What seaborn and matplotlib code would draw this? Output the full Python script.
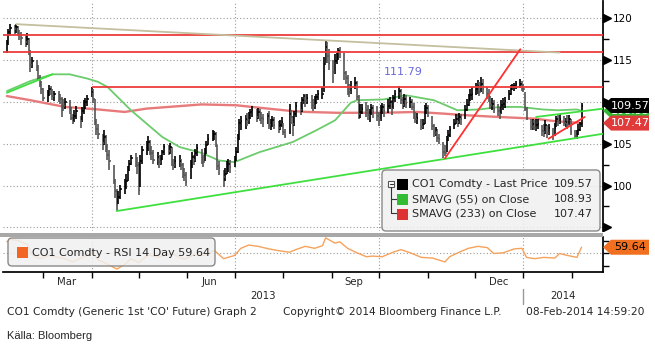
import numpy as np
import pandas as pd
import seaborn as sns
import matplotlib.pyplot as plt
import matplotlib.dates as mdates
from matplotlib.patches import Polygon, FancyBboxPatch, Rectangle
from matplotlib.lines import Line2D
from matplotlib.transforms import IdentityTransform, blended_transform_factory

sns.set_theme(style="white")
plt.rcParams['font.family'] = ['DejaVu Sans']

# --- daily bars, 6 Feb 2013 - 7 Feb 2014 (one row per week) ---
closes = [
    117.0, 118.4, 118.9,
    118.7, 119.0, 118.2, 118.0, 117.6,
    117.2, 117.5, 116.0, 114.4, 114.9,
    114.3, 112.9, 112.4, 111.6, 110.5,
    111.0, 111.6, 111.5, 110.7, 110.9,
    110.6, 110.3, 109.7, 109.5, 110.0,
    109.0, 108.1, 107.6, 108.3, 108.9,
    107.7, 108.9, 109.6, 110.0, 110.3,
    111.2, 110.4, 107.6, 106.8, 106.2,
    105.1, 105.8, 104.6, 103.7, 102.9,
    100.6, 99.3, 97.7, 98.6, 99.6,
    100.0, 100.6, 101.8, 102.6, 103.3,
    102.8, 102.4, 99.5, 102.9, 104.2,
    104.5, 105.2, 104.4, 103.9, 103.0,
    103.4, 102.8, 103.3, 104.0, 104.6,
    104.1, 104.6, 102.7, 102.5, 102.9,
    102.9, 102.4, 102.0, 101.3, 100.4,
    102.5, 103.4, 103.0, 103.9, 104.5,
    103.3, 102.8, 103.9, 104.8, 105.6,
    106.0, 106.2, 105.0, 102.3, 102.1,
    101.0, 101.4, 102.3, 102.6, 102.2,
    103.0, 104.0, 105.6, 107.5, 107.7,
    107.9, 107.8, 108.4, 108.8, 109.0,
    108.2, 108.8, 108.4, 108.1, 107.9,
    108.3, 107.2, 107.4, 107.8, 107.2,
    106.9, 107.2, 107.6, 106.4, 105.9,
    108.6, 108.2, 107.4, 108.5, 109.5,
    109.0, 110.2, 110.7, 110.1, 110.5,
    110.1, 109.5, 110.2, 110.6, 111.0,
    111.0, 114.5, 116.6, 115.5, 114.7,
    113.6, 114.9, 115.4, 116.1, 116.0,
    113.4, 112.9, 112.0, 111.2, 111.8,
    112.3, 110.6, 108.5, 108.8, 109.2,
    109.0, 108.4, 108.6, 109.3, 108.8,
    108.3, 107.8, 108.9, 109.4, 108.9,
    109.5, 110.0, 109.1, 110.5, 110.9,
    111.3, 110.2, 109.6, 110.4, 109.9,
    110.0, 109.4, 108.2, 107.9, 108.1,
    107.0, 107.4, 108.9, 109.3, 108.7,
    107.1, 106.3, 106.6, 105.7, 105.6,
    104.0, 103.9, 105.4, 106.0, 106.6,
    107.4, 107.9, 107.6, 108.2, 108.0,
    109.0, 109.6, 110.4, 110.8, 110.9,
    111.6, 111.9, 111.2, 112.2, 111.6,
    111.0, 110.7, 109.6, 109.8, 109.2,
    108.9, 108.5, 109.6, 109.8, 110.1,
    110.9, 111.6, 111.9, 111.9, 112.2,
    112.2, 111.9, 111.6, 109.2, 108.1,
    107.0, 107.4, 106.9, 107.2, 107.4,
    106.5, 106.4, 107.2, 106.3, 106.9,
    106.1, 106.9, 107.9, 107.6, 108.0,
    107.5, 107.6, 107.2, 107.9, 106.4,
    105.9, 106.2, 106.6, 107.3, 109.57,
]
highs = [
    117.4, 118.7, 119.3,
    119.2, 119.3, 119.1, 118.6, 118.4,
    118.0, 118.2, 117.6, 116.2, 115.4,
    115.0, 114.4, 113.2, 112.5, 111.7,
    111.4, 112.0, 111.9, 111.6, 111.3,
    111.3, 111.0, 110.6, 110.4, 110.5,
    110.2, 109.4, 108.5, 109.0, 109.5,
    108.3, 109.4, 110.2, 110.5, 110.8,
    111.8, 111.5, 110.3, 108.0, 107.3,
    106.2, 106.6, 106.1, 105.0, 104.2,
    102.4, 100.8, 99.6, 99.4, 100.1,
    100.8, 101.4, 102.3, 103.1, 103.6,
    103.9, 103.4, 102.8, 103.6, 104.7,
    105.3, 105.9, 105.4, 104.7, 104.3,
    104.0, 103.6, 103.7, 104.3, 105.0,
    104.9, 105.1, 104.6, 103.2, 103.5,
    103.6, 103.2, 102.7, 102.1, 101.6,
    103.0, 104.0, 103.7, 104.4, 105.0,
    104.4, 103.7, 104.5, 105.3, 106.2,
    106.6, 106.5, 106.4, 104.8, 102.9,
    101.9, 102.1, 102.9, 103.2, 103.0,
    103.5, 104.6, 106.2, 108.0, 108.3,
    108.4, 108.7, 108.8, 109.2, 109.5,
    109.2, 109.3, 109.2, 108.8, 108.6,
    108.7, 108.9, 107.9, 108.3, 108.2,
    107.7, 107.8, 108.2, 107.5, 106.8,
    109.8, 109.0, 108.3, 108.9, 110.0,
    110.0, 110.6, 111.0, 110.9, 110.9,
    110.8, 110.4, 110.7, 111.0, 111.4,
    111.8, 115.4, 117.4, 117.2, 116.3,
    115.0, 115.7, 115.9, 116.5, 116.6,
    115.8, 113.7, 113.2, 112.2, 112.5,
    113.0, 112.5, 110.8, 109.8, 109.8,
    110.0, 109.6, 109.2, 109.8, 109.6,
    109.5, 108.8, 109.6, 109.9, 109.8,
    110.3, 110.6, 110.2, 110.8, 111.4,
    111.9, 111.6, 110.6, 111.0, 110.8,
    110.6, 110.4, 109.9, 108.8, 108.7,
    107.9, 108.0, 109.6, 109.9, 109.6,
    108.3, 107.4, 107.0, 106.8, 106.2,
    105.2, 104.9, 105.9, 106.7, 107.1,
    108.0, 108.6, 108.5, 108.7, 108.6,
    109.6, 110.4, 111.0, 111.5, 111.8,
    112.3, 112.6, 112.4, 113.0, 112.7,
    111.8, 111.6, 110.7, 110.5, 110.2,
    109.8, 109.4, 110.2, 110.5, 110.6,
    111.4, 112.0, 112.2, 112.3, 112.5,
    112.8, 112.5, 112.1, 111.2, 109.4,
    108.0, 107.9, 107.8, 107.9, 108.0,
    107.2, 107.3, 107.8, 107.2, 107.3,
    106.9, 107.5, 108.3, 108.5, 108.6,
    108.3, 108.1, 108.4, 108.4, 107.9,
    106.7, 106.7, 107.3, 107.6, 109.9,
]
lows = [
    115.9, 116.8, 118.0,
    118.1, 118.3, 117.9, 117.4, 116.8,
    116.6, 116.8, 115.6, 113.6, 114.0,
    113.7, 112.6, 111.8, 110.9, 110.1,
    110.0, 110.7, 110.8, 110.2, 110.1,
    110.0, 109.7, 108.2, 108.9, 109.2,
    108.6, 107.8, 107.4, 107.6, 108.0,
    106.9, 107.6, 108.6, 109.1, 109.5,
    110.6, 109.9, 107.2, 106.0, 105.6,
    104.2, 104.8, 104.0, 103.0, 101.8,
    100.2, 98.5, 97.0, 97.8, 98.4,
    99.0, 99.6, 100.5, 101.7, 102.4,
    102.2, 101.4, 98.9, 99.8, 102.6,
    103.6, 104.1, 103.6, 103.1, 102.6,
    102.5, 102.1, 102.4, 103.0, 103.7,
    103.6, 103.8, 102.3, 101.8, 102.1,
    102.2, 101.9, 100.9, 100.5, 100.0,
    100.8, 102.1, 102.5, 102.8, 103.5,
    102.6, 102.2, 102.9, 103.8, 104.9,
    105.3, 105.5, 104.6, 101.8, 101.2,
    99.8, 100.5, 101.4, 101.6, 101.5,
    102.2, 102.9, 103.9, 105.5, 106.6,
    106.8, 107.1, 107.3, 107.9, 108.2,
    107.6, 107.9, 107.7, 107.3, 107.0,
    107.4, 106.8, 106.6, 107.0, 106.8,
    106.3, 106.6, 107.0, 106.0, 105.7,
    106.2, 107.3, 105.9, 107.1, 108.2,
    108.4, 108.8, 109.8, 109.4, 109.7,
    109.2, 108.9, 109.2, 109.8, 110.2,
    110.4, 111.2, 114.6, 114.6, 113.8,
    112.3, 113.3, 114.5, 115.0, 115.2,
    112.6, 112.2, 110.8, 110.6, 111.0,
    111.6, 110.2, 108.0, 108.1, 108.5,
    108.2, 107.8, 107.6, 108.4, 108.1,
    107.7, 107.1, 107.7, 108.5, 108.2,
    108.7, 109.2, 108.4, 109.1, 110.0,
    110.4, 109.8, 109.1, 109.4, 109.3,
    109.3, 109.0, 107.9, 107.5, 107.4,
    106.6, 106.8, 107.3, 108.6, 108.2,
    106.6, 105.8, 105.9, 105.2, 105.0,
    103.3, 103.5, 104.0, 105.3, 105.8,
    106.8, 107.3, 107.0, 107.4, 107.2,
    107.9, 108.9, 109.5, 110.1, 110.2,
    110.8, 111.0, 110.7, 111.2, 110.9,
    110.3, 110.0, 109.1, 109.0, 108.7,
    108.3, 108.0, 108.6, 109.0, 109.3,
    110.2, 110.8, 111.4, 111.3, 111.5,
    111.7, 111.3, 111.2, 108.9, 107.8,
    106.6, 106.7, 106.6, 106.5, 106.8,
    105.9, 105.8, 106.2, 105.7, 106.1,
    105.5, 105.9, 107.0, 107.1, 107.4,
    107.1, 107.0, 106.8, 107.2, 106.0,
    105.6, 105.6, 106.0, 106.5, 107.0,
]

sma55_dates = ['2013-02-06', '2013-02-21', '2013-03-07', '2013-03-18', '2013-03-29',
               '2013-04-05', '2013-04-11', '2013-04-26', '2013-05-16', '2013-05-27',
               '2013-06-10', '2013-06-21', '2013-07-01', '2013-07-17', '2013-08-07',
               '2013-08-22', '2013-09-03', '2013-09-13', '2013-09-17', '2013-10-04',
               '2013-10-18', '2013-11-05', '2013-11-20', '2013-12-04', '2013-12-17',
               '2013-12-30', '2014-01-13', '2014-01-23', '2014-02-04', '2014-02-07']
sma55_values = [111.3, 112.5, 113.3, 113.3, 112.8, 112.4, 111.8, 109.0, 105.8, 104.6,
                103.9, 103.0, 102.8, 104.0, 105.2, 106.6, 107.8, 109.9, 110.2, 110.3,
                110.8, 110.2, 109.0, 109.1, 109.4, 109.4, 109.1, 109.0, 109.1, 108.93]

sma233_dates = ['2013-02-06', '2013-02-21', '2013-03-15', '2013-04-05', '2013-04-22',
                '2013-05-06', '2013-05-27', '2013-06-10', '2013-07-02', '2013-07-17',
                '2013-08-07', '2013-08-16', '2013-09-04', '2013-10-04', '2013-10-25',
                '2013-11-11', '2013-11-26', '2013-12-16', '2014-01-08', '2014-01-21',
                '2014-02-07']
sma233_values = [110.7, 110.2, 109.4, 109.1, 108.8, 109.2, 109.5, 109.7, 109.6, 109.3,
                 108.9, 108.8, 108.7, 108.7, 108.8, 108.6, 108.4, 108.2, 108.0, 107.7,
                 107.47]

rsi_dates = ['2013-02-06', '2013-02-08', '2013-02-13', '2013-02-19', '2013-02-22',
             '2013-02-27', '2013-03-05', '2013-03-11', '2013-03-15', '2013-03-20',
             '2013-03-26', '2013-04-02', '2013-04-05', '2013-04-10', '2013-04-17',
             '2013-04-22', '2013-04-26', '2013-05-01', '2013-05-07', '2013-05-13',
             '2013-05-17', '2013-05-22', '2013-05-30', '2013-06-05', '2013-06-12',
             '2013-06-18', '2013-06-24', '2013-07-01', '2013-07-05', '2013-07-10',
             '2013-07-16', '2013-07-23', '2013-07-30', '2013-08-05', '2013-08-09',
             '2013-08-15', '2013-08-21', '2013-08-26', '2013-08-28', '2013-09-03',
             '2013-09-06', '2013-09-11', '2013-09-17', '2013-09-23', '2013-09-27',
             '2013-10-03', '2013-10-10', '2013-10-15', '2013-10-21', '2013-10-28',
             '2013-11-04', '2013-11-12', '2013-11-15', '2013-11-22', '2013-11-27',
             '2013-12-03', '2013-12-09', '2013-12-13', '2013-12-19', '2013-12-26',
             '2013-12-31', '2014-01-03', '2014-01-08', '2014-01-14', '2014-01-21',
             '2014-01-24', '2014-01-29', '2014-02-04', '2014-02-07']
rsi_values = [68, 72, 70, 64, 48, 42, 47, 44, 42, 37,
              44, 52, 40, 35, 26, 33, 42, 36, 48, 44,
              47, 50, 41, 48, 47, 55, 42, 47, 58, 63,
              61, 57, 54, 52, 56, 61, 58, 62, 74, 66,
              68, 58, 51, 45, 46, 45, 52, 56, 51, 44,
              43, 37, 45, 53, 58, 61, 59, 50, 51, 57,
              58, 44, 42, 44, 43, 50, 47, 44, 59.64]

last_price, sma55_last, sma233_last, rsi_last = 109.57, 108.93, 107.47, 59.64
resistance_full = [118.0, 116.0]
resistance_start, resistance_level = '2013-04-01', 111.79
# (start date, start value, end date, end value, colour)
trend_lines = [
    ('2013-02-12', 119.3, '2014-01-24', 115.9, '#c4bf9e'),
    ('2013-04-17', 96.95, '2014-02-21', 106.2, '#3ee03e'),
    ('2013-02-06', 111.1, '2013-03-07', 113.3, '#3ee03e'),
    ('2014-01-09', 108.2, '2014-02-21', 109.2, '#3ee03e'),
    ('2013-11-12', 103.25, '2013-12-30', 116.3, '#ff3030'),
    ('2014-01-17', 105.6, '2014-02-09', 108.2, '#ff3030'),
]


def num(s):
    return mdates.date2num(pd.Timestamp(s))


W, H = 655, 351
fig = plt.figure(figsize=(6.55, 3.51), dpi=100)
fig.patch.set_facecolor('white')
ax = fig.add_axes([3 / W, 1 - 231 / H, 600 / W, 230 / H])
ax_rsi = fig.add_axes([3 / W, 1 - 272 / H, 600 / W, 35 / H], sharex=ax)
px = IdentityTransform()

dates = pd.bdate_range('2013-02-06', '2014-02-07')
d = mdates.date2num(dates)
closes = np.array(closes)

# grid
grid_kw = dict(color='#9a9a9a', lw=0.8, ls=(0, (1, 2)), zorder=0)
for q in ['2013-04-01', '2013-07-01', '2013-10-01', '2014-01-01']:
    ax.axvline(num(q), **grid_kw)
    ax_rsi.axvline(num(q), **grid_kw)
for v in [95, 100, 105, 110, 115, 120]:
    ax.axhline(v, **grid_kw)
ax_rsi.axhline(50, **grid_kw)

# moving averages
sns.lineplot(x=mdates.date2num(pd.to_datetime(sma233_dates)), y=sma233_values, ax=ax,
             color='#e77b7b', lw=1.7, zorder=2)
sns.lineplot(x=mdates.date2num(pd.to_datetime(sma55_dates)), y=sma55_values, ax=ax,
             color='#6ccb6c', lw=1.3, zorder=2)

# price bars
up = np.r_[True, np.diff(closes) >= 0]
cols = np.where(up, '#000000', '#555555')
ax.vlines(d, lows, highs, colors=cols, lw=1.2, zorder=3)
ax.hlines(closes, d, d + 1.0, colors=cols, lw=1.1, zorder=3)

# levels and trend lines
for lvl in resistance_full:
    ax.axhline(lvl, color='#ee3b3b', lw=1.3, zorder=4)
ax.hlines(resistance_level, num(resistance_start), num('2014-02-25'),
          color='#ee3b3b', lw=1.3, zorder=4)
for s0, v0, s1, v1, c in trend_lines:
    ax.plot([num(s0), num(s1)], [v0, v1], color=c, lw=1.3, zorder=4)
ax.text(num('2013-10-04'), 113.6, f'{resistance_level:.2f}', color='#6a6ad8',
        fontsize=8, va='center', ha='left')

ax.set_xlim(num('2013-02-03 12:00'), num('2014-02-20 16:00'))
ax.set_ylim(94.56, 122.07)

# RSI
sns.lineplot(x=mdates.date2num(pd.to_datetime(rsi_dates)), y=rsi_values, ax=ax_rsi,
             color='#f5a35c', lw=1.0, zorder=2)
ax_rsi.set_ylim(21.5, 75.4)

# axes styling
for a in (ax, ax_rsi):
    for side in ('top', 'left', 'bottom', 'right'):
        a.spines[side].set_visible(False)
    a.set_facecolor('none')
    a.set_xlabel('')
    a.set_ylabel('')
ax.spines['right'].set_visible(True)
ax.spines['right'].set_color('black')
ax_rsi.spines['right'].set_visible(True)
ax_rsi.spines['bottom'].set_visible(True)
ax_rsi.spines['right'].set_color('black')
ax_rsi.spines['bottom'].set_color('black')

# the 110 label sits under the last-price tag, so it is left blank
ax.set_yticks([95, 100, 105, 110, 115, 120])
ax.set_yticklabels(['', '100', '105', '', '115', '120'])
ax.set_yticks([97.5, 102.5, 107.5, 112.5, 117.5], minor=True)
ax.tick_params(axis='y', which='major', left=False, right=True, labelleft=False,
               labelright=True, length=0, pad=7, labelsize=7.5, labelcolor='black')
ax.tick_params(axis='y', which='minor', left=False, right=True, length=4, width=1,
               color='black', direction='out')
ax.tick_params(axis='x', bottom=False, labelbottom=False)
tri = blended_transform_factory(ax.transAxes, ax.transData)
ax.plot([1 + 4 / 600] * 6, [95, 100, 105, 110, 115, 120], ls='none', marker='>',
        ms=5.5, color='black', transform=tri, clip_on=False)

ax_rsi.set_yticks([30, 50, 70])
ax_rsi.tick_params(axis='y', left=False, right=True, labelleft=False, labelright=False,
                   length=4, width=1, color='black', direction='out')
months = mdates.date2num(pd.date_range('2013-03-01', '2014-02-01', freq='MS'))
ax_rsi.set_xticks(months)
ax_rsi.tick_params(axis='x', bottom=True, labelbottom=False, length=4, width=1,
                   color='black', direction='out')

# month / year labels
lab = blended_transform_factory(ax_rsi.transData, ax_rsi.transAxes)
for m, s in [('2013-03-16', 'Mar'), ('2013-06-15', 'Jun'), ('2013-09-15', 'Sep'),
             ('2013-12-16', 'Dec')]:
    ax_rsi.text(num(m), -10 / 35, s, transform=lab, ha='center', va='center', fontsize=7.3)
x0, x1 = ax.get_xlim()
jan = num('2014-01-01')
ax_rsi.text((x0 + jan) / 2, -24 / 35, '2013', transform=lab, ha='center', va='center',
            fontsize=7.3)
ax_rsi.text((jan + x1) / 2, -24 / 35, '2014', transform=lab, ha='center', va='center',
            fontsize=7.3)
ax_rsi.add_line(Line2D([jan, jan], [-17 / 35, -32 / 35], transform=lab, color='#999999',
                       lw=1, clip_on=False))

# separator between panels
fig.add_artist(Rectangle((0, H - 236.5), 603, 4, transform=px, color='#a8a8a8', lw=0))


def tag(axis, value, face, tcolor, text, z=6):
    yc = axis.transData.transform((0, value))[1]
    xs = axis.transAxes.transform((1, 0))[0]
    pts = [(xs, yc), (xs + 8, yc + 7.5), (xs + 46, yc + 7.5), (xs + 46, yc - 7.5),
           (xs + 8, yc - 7.5)]
    fig.add_artist(Polygon(pts, closed=True, transform=px, facecolor=face,
                           edgecolor='none', zorder=z))
    fig.text(xs + 27, yc, text, transform=px, color=tcolor, fontsize=8, ha='center',
             va='center', zorder=z + 0.5)


tag(ax, sma55_last, '#33b833', 'white', f'{sma55_last:.2f}', 6)
tag(ax, sma233_last, '#e03a3a', 'white', f'{sma233_last:.2f}', 7)
tag(ax, last_price, 'black', 'white', f'{last_price:.2f}', 8)
tag(ax_rsi, rsi_last, '#f07020', 'black', f'{rsi_last:.2f}', 8)


def box(x0, y0, x1, y1, z=5):
    fig.add_artist(FancyBboxPatch((x0, H - y1), x1 - x0, y1 - y0,
                                  boxstyle='round,pad=0,rounding_size=4', transform=px,
                                  facecolor=(0.94, 0.94, 0.94, 0.85), edgecolor='#8a8a8a',
                                  lw=1, zorder=z))


def square(x0, y0, size, color, z=6):
    fig.add_artist(Rectangle((x0, H - y0 - size), size, size, transform=px,
                             facecolor=color, edgecolor='none', zorder=z))


# main legend
box(382, 170, 600, 231)
fig.add_artist(Rectangle((388, H - 187), 6, 6, transform=px, facecolor='white',
                         edgecolor='#555555', lw=0.8, zorder=6))
fig.add_artist(Line2D([389.5, 392.5], [H - 184, H - 184], transform=px, color='#333333',
                      lw=0.8, zorder=7))
fig.add_artist(Line2D([391, 391, 397], [H - 187, H - 213, H - 213], transform=px,
                      color='#333333', lw=0.8, zorder=6))
fig.add_artist(Line2D([391, 397], [H - 199, H - 199], transform=px, color='#333333',
                      lw=0.8, zorder=6))
rows = [('CO1 Comdty - Last Price', last_price, 'black'),
        ('SMAVG (55) on Close', sma55_last, '#33bb33'),
        ('SMAVG (233) on Close', sma233_last, '#dd3333')]
for i, (name, val, c) in enumerate(rows):
    yc = 184 + 15 * i
    square(397, yc - 5.5, 11, c)
    fig.text(412, H - yc, name, transform=px, fontsize=8, va='center', ha='left', zorder=7)
    fig.text(593, H - yc, f'{val:.2f}', transform=px, fontsize=8, va='center', ha='right',
             zorder=7)

# RSI legend
box(8, 238, 215, 266)
square(17, 247, 11, '#f26522')
fig.text(32, H - 253, f'CO1 Comdty - RSI 14 Day {rsi_last:.2f}', transform=px,
         fontsize=8, va='center', ha='left', zorder=7)

# footer
fig.text(7 / W, 1 - 312 / H, "CO1 Comdty (Generic 1st 'CO' Future) Graph 2", fontsize=7.7,
         va='center', ha='left')
fig.text(283 / W, 1 - 312 / H, 'Copyright\u00a9 2014 Bloomberg Finance L.P.', fontsize=7.6,
         va='center', ha='left')
fig.text(645 / W, 1 - 312 / H, '08-Feb-2014 14:59:20', fontsize=7.7, va='center',
         ha='right')
fig.text(7 / W, 1 - 336 / H, 'K\u00e4lla: Bloomberg', fontsize=8, va='center', ha='left',
         family='Liberation Sans')

fig.savefig('out.png', dpi=100, facecolor='white')
